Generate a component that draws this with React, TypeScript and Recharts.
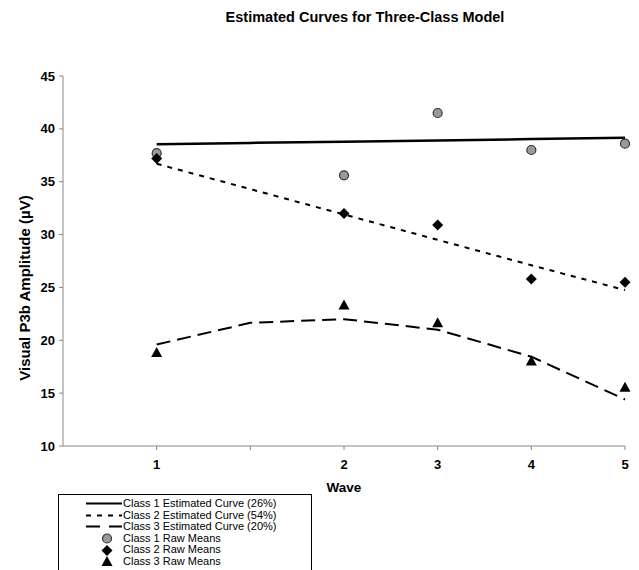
import React from 'react';
import {
  ComposedChart,
  Line,
  Scatter,
  XAxis,
  YAxis,
  Label,
} from 'recharts';

// x positions: wave 1 sits at 1, wave 2 at 3 (gap of two units), then 4, 5, 6
const curvePositions = [1, 2, 3, 4, 5, 6];
const wavePositions = [1, 3, 4, 5, 6];
const waveLabels: Record<number, string> = { 1: '1', 2: '', 3: '2', 4: '3', 5: '4', 6: '5' };

const class1Curve = [38.55, 38.67, 38.79, 38.91, 39.03, 39.15];
const class2Curve = [36.7, 34.3, 31.9, 29.5, 27.1, 24.75];
const class3Curve = [19.6, 21.65, 22.0, 21.0, 18.45, 14.4];

const class1Means = [37.7, 35.6, 41.5, 38.0, 38.6];
const class2Means = [37.2, 32.0, 30.9, 25.8, 25.5];
const class3Means = [18.8, 23.3, 21.6, 18.0, 15.5];

const yTicks = [10, 15, 20, 25, 30, 35, 40, 45];

const FONT = '"Liberation Sans", Arial, sans-serif';

const curveRows = curvePositions.map((pos, i) => ({
  pos,
  c1: class1Curve[i],
  c2: class2Curve[i],
  c3: class3Curve[i],
}));

const toPoints = (vals: number[]) => wavePositions.map((pos, i) => ({ pos, v: vals[i] }));

const CircleMark = ({ cx, cy }: any) => (
  <circle cx={cx} cy={cy} r={4.5} fill="#9a9a9a" stroke="#333" strokeWidth={1.2} />
);
const DiamondMark = ({ cx, cy }: any) => (
  <path d={`M${cx},${cy - 5.5}L${cx + 5.5},${cy}L${cx},${cy + 5.5}L${cx - 5.5},${cy}Z`} fill="#000" />
);
const TriangleMark = ({ cx, cy }: any) => (
  <path d={`M${cx},${cy - 6}L${cx + 5.5},${cy + 4}L${cx - 5.5},${cy + 4}Z`} fill="#000" />
);

const legendItems = [
  { label: 'Class 1 Estimated Curve (26%)', kind: 'line', dash: undefined },
  { label: 'Class 2 Estimated Curve (54%)', kind: 'line', dash: '5 6' },
  { label: 'Class 3 Estimated Curve (20%)', kind: 'line', dash: '14 9' },
  { label: 'Class 1 Raw Means', kind: 'circle' },
  { label: 'Class 2 Raw Means', kind: 'diamond' },
  { label: 'Class 3 Raw Means', kind: 'triangle' },
];

function Swatch({ kind, dash }: { kind: string; dash?: string }) {
  return (
    <svg width={36} height={11} style={{ display: 'block' }}>
      {kind === 'line' && (
        <line x1={0} y1={5.5} x2={36} y2={5.5} stroke="#000" strokeWidth={2} strokeDasharray={dash} />
      )}
      {kind === 'circle' && <CircleMark cx={21} cy={5.5} />}
      {kind === 'diamond' && <DiamondMark cx={21} cy={5.5} />}
      {kind === 'triangle' && <TriangleMark cx={21} cy={6} />}
    </svg>
  );
}

export default function App() {
  return (
    <div style={{ position: 'relative', width: 639, height: 570, background: '#fff', fontFamily: FONT, overflow: 'hidden' }}>
      <style>{'body{margin:0}'}</style>
      <div
        style={{
          position: 'absolute',
          top: 9,
          left: 0,
          width: 730,
          textAlign: 'center',
          fontWeight: 'bold',
          fontSize: 14.5,
          color: '#000',
        }}
      >
        Estimated Curves for Three-Class Model
      </div>
      <ComposedChart
        width={639}
        height={570}
        data={curveRows}
        margin={{ top: 76, right: 14, bottom: 94, left: 0 }}
      >
        <XAxis
          dataKey="pos"
          type="number"
          domain={[0, 6]}
          ticks={[1, 2, 3, 4, 5, 6]}
          tickFormatter={(v: number) => waveLabels[v] ?? ''}
          height={30}
          stroke="#888"
          tickSize={4}
          tickMargin={10}
          tick={{ fill: '#000', fontSize: 13, fontWeight: 'bold', fontFamily: FONT }}
        >
          <Label
            value="Wave"
            position="bottom"
            offset={6}
            style={{ fill: '#000', fontSize: 13.5, fontWeight: 'bold', fontFamily: FONT }}
          />
        </XAxis>
        <YAxis
          type="number"
          domain={[10, 45]}
          ticks={yTicks}
          width={63}
          stroke="#888"
          tickSize={4}
          tickMargin={4}
          tick={{ fill: '#000', fontSize: 13, fontWeight: 'bold', fontFamily: FONT }}
        >
          <Label
            content={() => (
              <text
                x={24}
                y={288}
                transform="rotate(-90, 24, 288)"
                textAnchor="middle"
                dominantBaseline="central"
                style={{ fill: '#000', fontSize: 15, fontWeight: 'bold', fontFamily: FONT }}
              >
                Visual P3b Amplitude (µV)
              </text>
            )}
          />
        </YAxis>
        <Line dataKey="c1" stroke="#000" strokeWidth={2.5} dot={false} isAnimationActive={false} />
        <Line dataKey="c2" stroke="#000" strokeWidth={2} strokeDasharray="5 6" dot={false} isAnimationActive={false} />
        <Line dataKey="c3" stroke="#000" strokeWidth={2} strokeDasharray="14 7" dot={false} isAnimationActive={false} />
        <Scatter data={toPoints(class1Means)} dataKey="v" shape={CircleMark} isAnimationActive={false} />
        <Scatter data={toPoints(class2Means)} dataKey="v" shape={DiamondMark} isAnimationActive={false} />
        <Scatter data={toPoints(class3Means)} dataKey="v" shape={TriangleMark} isAnimationActive={false} />
      </ComposedChart>
      <div
        style={{
          position: 'absolute',
          left: 58,
          top: 494,
          width: 254,
          height: 90,
          border: '1px solid #000',
          padding: '3px 0 0 27px',
          boxSizing: 'border-box',
          fontSize: 11,
          color: '#000',
        }}
      >
        {legendItems.map((it) => (
          <div key={it.label} style={{ display: 'flex', alignItems: 'center', height: 11.6, lineHeight: '11.6px' }}>
            <Swatch kind={it.kind} dash={it.dash} />
            <span style={{ marginLeft: 1 }}>{it.label}</span>
          </div>
        ))}
      </div>
    </div>
  );
}
